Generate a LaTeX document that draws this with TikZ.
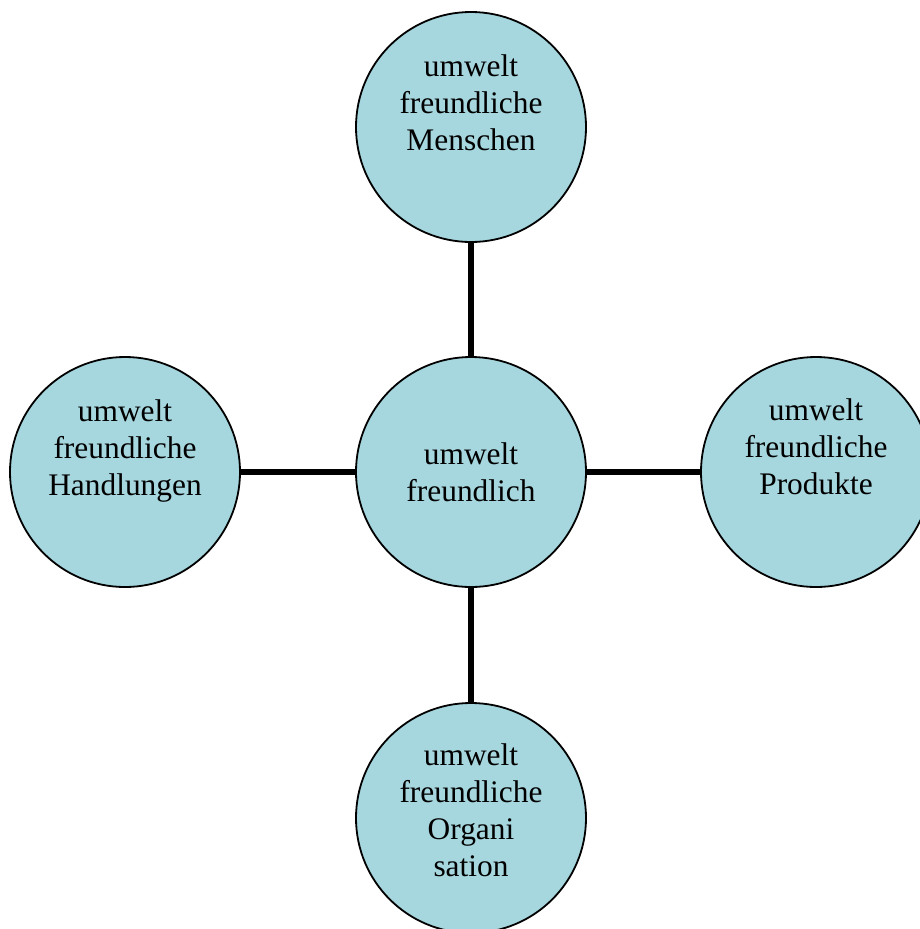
\documentclass[tikz,border=0pt]{standalone}
\usepackage{fontspec}
\setmainfont{Liberation Serif}
\definecolor{bubfill}{RGB}{166,214,222}
\begin{document}
\begin{tikzpicture}[x=1pt,y=-1pt,
  bub/.style={circle,draw=black,line width=1.8pt,fill=bubfill,minimum size=230pt,inner sep=0pt},
  lbl/.style={anchor=base,inner sep=0pt,font=\fontsize{31.4}{37}\selectfont},
  conn/.style={line width=5.5pt,draw=black}]
\useasboundingbox (0,0) rectangle (920,929);
\node[bub] (c) at (471,472) {};
\node[bub] (t) at (471,127) {};
\node[bub] (l) at (125,472) {};
\node[bub] (r) at (816,472) {};
\node[bub] (b) at (471,818) {};
\draw[conn] (t) -- (c);
\draw[conn] (l) -- (c);
\draw[conn] (r) -- (c);
\draw[conn] (b) -- (c);
\node[lbl] (ct) at (471,464) {\begin{tabular}[t]{@{}c@{}}umwelt\\freundlich\end{tabular}};
\node[lbl] (tt) at (471,76) {\begin{tabular}[t]{@{}c@{}}umwelt\\freundliche\\Menschen\end{tabular}};
\node[lbl] (lt) at (125,421) {\begin{tabular}[t]{@{}c@{}}umwelt\\freundliche\\Handlungen\end{tabular}};
\node[lbl] (rt) at (816,420) {\begin{tabular}[t]{@{}c@{}}umwelt\\freundliche\\Produkte\end{tabular}};
\node[lbl] (bt) at (471,765) {\begin{tabular}[t]{@{}c@{}}umwelt\\freundliche\\Organi\\sation\end{tabular}};
\end{tikzpicture}
\end{document}
